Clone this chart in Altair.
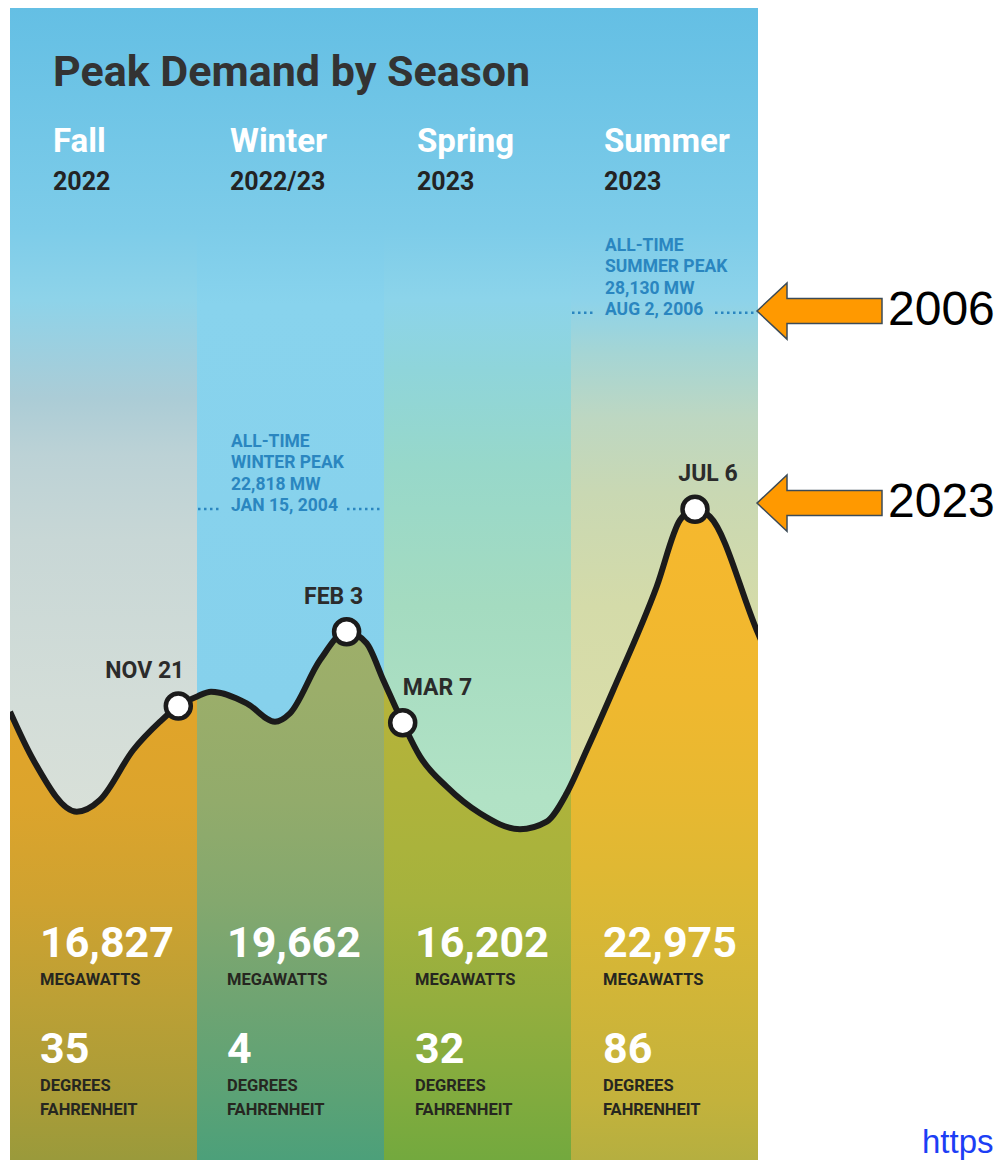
import altair as alt
import pandas as pd

# ---------------- data (read from the graphic) ----------------
TITLE = "Peak Demand by Season"
SEASONS = ["Fall", "Winter", "Spring", "Summer"]
SEASON_YEARS = ["2022", "2022/23", "2023", "2023"]
PEAK_DATES = ["NOV 21", "FEB 3", "MAR 7", "JUL 6"]
PEAK_MW = [16827, 19662, 16202, 22975]
PEAK_TEMP_F = [35, 4, 32, 86]

# demand curve as drawn (x in season widths, y in the drawing's MW-equivalent level)
CURVE_POS = [0.000, 0.125, 0.357, 0.481, 0.659, 0.802, 0.900, 0.998, 1.075, 1.266,
             1.417, 1.497, 1.658, 1.800, 1.907, 1.996, 2.100, 2.193, 2.335, 2.513,
             2.727, 2.870, 2.977, 3.084, 3.226, 3.458, 3.583, 3.663, 3.743, 3.993, 4.050]
CURVE_LEVEL = [16609, 14758, 12778, 13226, 15141, 16226, 16827, 17183, 17375, 16930,
               16226, 16547, 18589, 19673, 19229, 17823, 16187, 14885, 13735, 12716,
               12103, 12395, 13483, 15141, 17440, 21397, 23952, 24363, 24079, 19739, 18780]

PEAK_POS = [0.900, 1.800, 2.100, 3.663]
PEAK_LEVEL = [16827, 19673, 16187, 24363]

ALLTIME_SEASON = ["Winter", "Summer"]
ALLTIME_MW = ["22,818", "28,130"]
ALLTIME_DATE = ["JAN 15, 2004", "AUG 2, 2006"]
ALLTIME_LEVEL = [24375, 31896]

ARROW_LABELS = ["2006", "2023"]
ARROW_LEVEL = [31960, 24600]
LINK_TEXT = "https"

# ---------------- styling / layout ----------------
FONT = "Roboto"
LINE = "#1b1b1b"
ANN = "#2a86c0"
W = 187
H_TOP = 220
H = 932
W_ARROW = 239
Y_MIN = -568
Y_SCALE = alt.Scale(domain=[Y_MIN, 35141], nice=False, zero=False)

# page-y based colour stops (converted to gradient offsets below)
PAGE_TOP = 8
COL_TOP = PAGE_TOP + H_TOP
COL_BOTTOM = COL_TOP + H
AREA_TOP = 509.3
BANNER = [(8, "#64bfe4"), (228, "#7dcce9")]
ABOVE = [
    [(228, "#7dcce9"), (300, "#8ed3e9"), (351, "#9dcfdf"), (398, "#abccd6"), (455, "#bcd2d6"),
     (540, "#c8d7d6"), (701, "#d3ddd8"), (890, "#dce2d9"), (1174, "#e0e4d9")],
    [(228, "#7dcce9"), (304, "#88d3ed"), (701, "#86d1ec"), (1174, "#80cde9")],
    [(228, "#7dcce9"), (300, "#8cd4ea"), (370, "#8fd5da"), (465, "#97d8ca"), (606, "#a4dbc0"),
     (795, "#b1e2c5"), (1174, "#b9e5c9")],
    [(228, "#7dcce9"), (300, "#8dd3ea"), (351, "#a4d5d5"), (417, "#bdd7c2"), (493, "#c9d8b3"),
     (606, "#d4dba9"), (795, "#dcdea8"), (1174, "#e2e1a7")],
]
BELOW = [
    [(509, "#e4a428"), (722, "#e0a42a"), (802, "#dca42c"), (901, "#cfa230"), (1001, "#bca035"),
     (1101, "#a99c38"), (1174, "#9a9a3b")],
    [(509, "#a4b068"), (689, "#9bae6a"), (802, "#92ab6b"), (901, "#84a86e"), (1001, "#6fa472"),
     (1101, "#5aa276"), (1174, "#4ca07a")],
    [(509, "#b9b538"), (722, "#b4b33a"), (848, "#aab33c"), (901, "#a5b23d"), (1001, "#94ae3e"),
     (1101, "#80ab3e"), (1174, "#73a93e")],
    [(509, "#f6b82e"), (702, "#efb82f"), (802, "#e7b831"), (901, "#dcb834"), (1001, "#d0b538"),
     (1101, "#c3b23c"), (1174, "#b5af40")],
]
LABEL_ALIGN = ["right", "center", "left", "center"]
LABEL_DX = [6, -13, 0, 13]
STAT_X = [30, 30, 31, 32]
DOTS_RIGHT = {"Winter": (150, 185), "Summer": (144, 184)}
ARROW_PATH = "M -1 0 L -0.52 -0.45 L -0.52 -0.2 L 1 -0.2 L 1 0.2 L -0.52 0.2 L -0.52 0.45 Z"


def vgrad(stops, top, bottom):
    out = []
    for y, c in stops:
        o = (y - top) / (bottom - top)
        out.append({"offset": round(min(max(o, 0.0), 1.0), 4), "color": c})
    return {"gradient": "linear", "x1": 0, "y1": 0, "x2": 0, "y2": 1, "stops": out}


curve_df = pd.DataFrame({"pos": CURVE_POS, "level": CURVE_LEVEL})
peaks_df = pd.DataFrame({"pos": PEAK_POS, "level": PEAK_LEVEL, "date": PEAK_DATES})


def Yq(f):
    return alt.Y(f, type="quantitative", scale=Y_SCALE, axis=None)


def column_panel(i):
    xs = alt.Scale(domain=[i, i + 1], nice=False, zero=False)

    def Xq(f):
        return alt.X(f, type="quantitative", scale=xs, axis=None)

    band = pd.DataFrame({"start": [i], "end": [i + 1]})
    layers = []
    layers.append(alt.Chart(band).mark_rect(fill=vgrad(ABOVE[i], COL_TOP, COL_BOTTOM)).encode(
        x=Xq("start"), x2="end", y=alt.value(0), y2=alt.value(H)))
    layers.append(alt.Chart(curve_df).mark_area(
        interpolate="monotone", clip=True, fill=vgrad(BELOW[i], AREA_TOP, COL_BOTTOM),
        opacity=1).encode(x=Xq("pos"), y=Yq("level"), y2=alt.datum(Y_MIN)))
    layers.append(alt.Chart(curve_df).mark_line(
        interpolate="monotone", clip=True, stroke=LINE, strokeWidth=6).encode(
        x=Xq("pos"), y=Yq("level")))

    season = SEASONS[i]
    if season in ALLTIME_SEASON:
        k = ALLTIME_SEASON.index(season)
        ann = pd.DataFrame({"level": [ALLTIME_LEVEL[k]]})
        lines = ["ALL-TIME", f"{season.upper()} PEAK", f"{ALLTIME_MW[k]} MW", ALLTIME_DATE[k]]
        layers.append(alt.Chart(ann).mark_text(
            font=FONT, fontWeight="bold", fontSize=17.5, lineHeight=21.5, color=ANN,
            align="left", baseline="alphabetic", dy=-62).encode(
            x=alt.value(34), y=Yq("level"), text=alt.value(lines)))
        for a, b in [(1, 23), DOTS_RIGHT[season]]:
            layers.append(alt.Chart(ann).mark_rule(
                stroke=ANN, strokeWidth=2.5, strokeDash=[2.5, 3.5]).encode(
                x=alt.value(a), x2=alt.value(b), y=Yq("level")))

    pk = peaks_df.iloc[[i]]
    layers.append(alt.Chart(pk).mark_point(
        shape="circle", filled=True, fill="white", stroke=LINE, strokeWidth=4.5,
        size=625, opacity=1).encode(x=Xq("pos"), y=Yq("level")))
    layers.append(alt.Chart(pk).mark_text(
        font=FONT, fontWeight="bold", fontSize=23, color="#2b2b2b",
        align=LABEL_ALIGN[i], dx=LABEL_DX[i], dy=-28, baseline="alphabetic").encode(
        x=Xq("pos"), y=Yq("level"), text="date:N"))

    stats = alt.Chart(pd.DataFrame({"mw": [PEAK_MW[i]], "temp": [PEAK_TEMP_F[i]]}))
    sx = alt.value(STAT_X[i])
    layers.append(stats.mark_text(font=FONT, fontWeight="bold", fontSize=43, color="white",
                                  align="left", baseline="alphabetic").encode(
        x=sx, y=alt.value(729), text=alt.Text("mw:Q", format=",")))
    layers.append(stats.mark_text(font=FONT, fontWeight="bold", fontSize=16.5, color="#262620",
                                  align="left", baseline="alphabetic").encode(
        x=sx, y=alt.value(757), text=alt.value("MEGAWATTS")))
    layers.append(stats.mark_text(font=FONT, fontWeight="bold", fontSize=43, color="white",
                                  align="left", baseline="alphabetic").encode(
        x=sx, y=alt.value(835), text=alt.Text("temp:Q")))
    layers.append(stats.mark_text(font=FONT, fontWeight="bold", fontSize=16.5, color="#262620",
                                  align="left", baseline="alphabetic", lineHeight=24).encode(
        x=sx, y=alt.value(863), text=alt.value(["DEGREES", "FAHRENHEIT"])))

    return alt.layer(*layers).properties(width=W, height=H)


def arrow_panel():
    arrows = pd.DataFrame({"label": ARROW_LABELS, "level": ARROW_LEVEL})
    pts = alt.Chart(arrows).mark_point(
        shape=ARROW_PATH, size=15625, filled=True, fill="#ff9900", stroke="#3c4b57",
        strokeWidth=1.5, opacity=1).encode(x=alt.value(61.5), y=Yq("level"))
    txt = alt.Chart(arrows).mark_text(
        font="Liberation Sans", fontSize=48, color="black", align="left",
        baseline="middle").encode(x=alt.value(130), y=Yq("level"), text="label:N")
    link = alt.Chart(pd.DataFrame({"t": [LINK_TEXT]})).mark_text(
        font="Liberation Sans", fontSize=33, color="#1c3ef5", align="left",
        baseline="alphabetic").encode(x=alt.value(164), y=alt.value(H - 7), text="t:N")
    return alt.layer(pts, txt, link).properties(width=W_ARROW, height=H)


def banner():
    bdf = pd.DataFrame({"idx": [0, 1, 2, 3], "season": SEASONS, "year": SEASON_YEARS})
    bx = alt.Scale(domain=[0, 4], nice=False, zero=False)
    bg = alt.Chart(pd.DataFrame({"s": [0], "e": [4]})).mark_rect(
        fill=vgrad(BANNER, PAGE_TOP, COL_TOP)).encode(
        x=alt.X("s:Q", scale=bx, axis=None), x2="e:Q", y=alt.value(0), y2=alt.value(H_TOP))
    title = alt.Chart(pd.DataFrame({"t": [TITLE]})).mark_text(
        font=FONT, fontWeight="bold", fontSize=43, color="#333333", align="left",
        baseline="alphabetic").encode(x=alt.value(43), y=alt.value(78), text="t:N")
    layers = [bg, title]
    for cond, dx in [("datum.idx == 0", 43), ("datum.idx > 0", 33)]:
        base = alt.Chart(bdf).transform_filter(cond)
        layers.append(base.mark_text(font=FONT, fontWeight="bold", fontSize=33, color="white",
                                     align="left", baseline="alphabetic", dx=dx).encode(
            x=alt.X("idx:Q", scale=bx, axis=None), y=alt.value(144), text="season:N"))
        layers.append(base.mark_text(font=FONT, fontWeight="bold", fontSize=25, color="#232323",
                                     align="left", baseline="alphabetic", dx=dx).encode(
            x=alt.X("idx:Q", scale=bx, axis=None), y=alt.value(182), text="year:N"))
    return alt.layer(*layers).properties(width=4 * W, height=H_TOP)


cols = alt.hconcat(*[column_panel(i) for i in range(4)], arrow_panel(),
                   spacing=0, bounds="flush").resolve_scale(x="independent", y="independent")

chart = alt.vconcat(banner(), cols, spacing=0, bounds="flush").resolve_scale(
    x="independent", y="independent").properties(
    padding={"left": 2, "top": 0, "right": 0, "bottom": 0}).configure_view(stroke=None)

chart.save("out.html", embed_options={"renderer": "svg", "actions": False})
